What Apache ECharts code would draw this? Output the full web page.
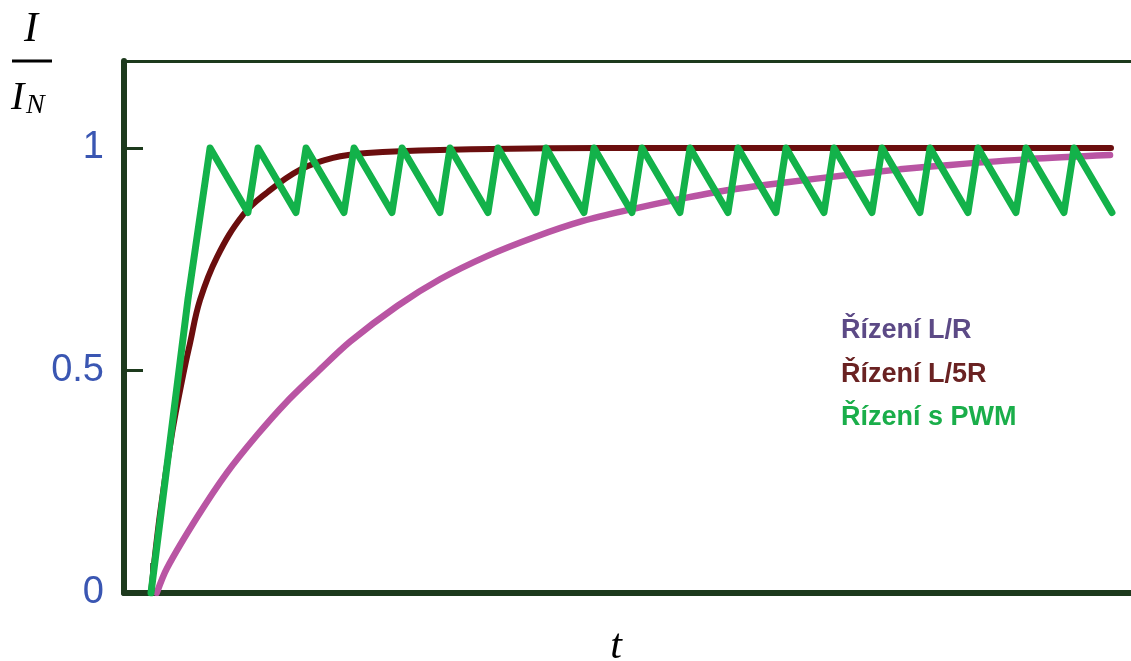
<!DOCTYPE html>
<html>
<head>
<meta charset="utf-8">
<script src="https://cdn.jsdelivr.net/npm/echarts@6/dist/echarts.min.js"></script>
<style>
html,body{margin:0;padding:0;background:#fff;overflow:hidden;}
#chart{width:1131px;height:661px;}
</style>
</head>
<body>
<div id="chart"></div>
<script>
// ---- data (t in PWM-period units, value = I / I_N) ----
const seriesNames = ['Řízení L/R', 'Řízení L/5R', 'Řízení s PWM'];

const tLR = [0.12, 0.33, 0.96, 1.58, 2.21, 2.83, 3.5, 4.15, 5.13, 6.02, 7.0, 8.0, 9.0, 10.0, 11.0, 12.0, 13.17, 14.56, 15.6, 16.65, 18.3, 19.98];
const vLR = [0, 0.055, 0.17, 0.27, 0.355, 0.43, 0.5, 0.565, 0.645, 0.705, 0.757, 0.8, 0.836, 0.862, 0.885, 0.905, 0.922, 0.94, 0.952, 0.962, 0.975, 0.984];

const tL5R = [0, 0.19, 0.44, 0.67, 0.81, 1.02, 1.375, 1.92, 2.42, 3.1, 3.79, 4.5, 6.23, 9.35, 20.0];
const vL5R = [0, 0.18, 0.36, 0.49, 0.56, 0.658, 0.755, 0.85, 0.9, 0.951, 0.978, 0.989, 0.996, 1.0, 1.0];

const tPWM = [0, 0.77, 1.23, 2.02, 2.23, 3.02, 3.23, 4.02, 4.23, 5.02, 5.23, 6.02, 6.23, 7.02, 7.23, 8.02, 8.23, 9.02, 9.23, 10.02, 10.23, 11.02, 11.23, 12.02, 12.23, 13.02, 13.23, 14.02, 14.23, 15.02, 15.23, 16.02, 16.23, 17.02, 17.23, 18.02, 18.23, 19.02, 19.23, 20.02];
const vPWM = [0, 0.66, 1, 0.855, 1, 0.855, 1, 0.855, 1, 0.855, 1, 0.855, 1, 0.855, 1, 0.855, 1, 0.855, 1, 0.855, 1, 0.855, 1, 0.855, 1, 0.855, 1, 0.855, 1, 0.855, 1, 0.855, 1, 0.855, 1, 0.855, 1, 0.855, 1, 0.855];

const yTickValues = [0, 0.5, 1];

function pairs(ts, vs) { return ts.map((t, i) => [t, vs[i]]); }

const axisColor = '#1d3a1d';
const chart = echarts.init(document.getElementById('chart'));
chart.setOption({
  backgroundColor: '#ffffff',
  animation: false,
  grid: { left: 124, right: 0, top: 61, bottom: 68, containLabel: false, outerBoundsMode: 'none' },
  xAxis: [{
    type: 'value', min: -0.5625, max: 20.4167,
    name: 't', nameLocation: 'middle', nameGap: 33,
    nameTextStyle: { fontFamily: 'Liberation Serif', fontStyle: 'italic', fontSize: 42, color: '#000', padding: [0, 23, 0, 0] },
    axisLine: { show: true, onZero: false, lineStyle: { color: axisColor, width: 6 } },
    axisTick: { show: true, inside: true, length: 30, customValues: [0], lineStyle: { color: axisColor, width: 2.5 } },
    axisLabel: { show: false },
    splitLine: { show: false }
  }, {
    type: 'value', position: 'top', min: -0.5625, max: 20.4167,
    axisLine: { show: true, onZero: false, lineStyle: { color: axisColor, width: 3 } },
    axisTick: { show: false }, axisLabel: { show: false }, splitLine: { show: false }
  }],
  yAxis: {
    type: 'value', min: 0, max: 1.1955, interval: 0.5,
    axisLine: { show: true, onZero: false, lineStyle: { color: axisColor, width: 6 } },
    axisTick: { show: true, inside: true, length: 19, customValues: [0.5, 1], lineStyle: { color: axisColor, width: 3 } },
    axisLabel: { customValues: yTickValues, margin: 20, padding: [9, 0, 0, 0], fontFamily: 'Liberation Sans', fontSize: 38, color: '#3a56b2' },
    splitLine: { show: false }
  },
  legend: {
    orient: 'vertical', left: 831, top: 311, icon: 'none', itemWidth: 0, itemHeight: 30, itemGap: 15,
    selectedMode: false,
    textStyle: { fontFamily: 'Liberation Sans', fontWeight: 'bold', fontSize: 27 },
    data: [
      { name: seriesNames[0], textStyle: { color: '#5c4a86' } },
      { name: seriesNames[1], textStyle: { color: '#6a2222' } },
      { name: seriesNames[2], textStyle: { color: '#1aae4a' } }
    ]
  },
  graphic: [
    { type: 'text', left: 24, top: 9, style: { text: 'I', fontFamily: 'Liberation Serif', fontStyle: 'italic', fontSize: 42, fill: '#000' } },
    { type: 'line', shape: { x1: 12, y1: 61, x2: 52, y2: 61 }, style: { stroke: '#000', lineWidth: 3 } },
    { type: 'text', left: 11, top: 78, style: { text: 'I', fontFamily: 'Liberation Serif', fontStyle: 'italic', fontSize: 40, fill: '#000' } },
    { type: 'text', left: 26, top: 92, style: { text: 'N', fontFamily: 'Liberation Serif', fontStyle: 'italic', fontSize: 28, fill: '#000' } }
  ],
  series: [
    { name: seriesNames[0], type: 'line', data: pairs(tLR, vLR), showSymbol: false, smooth: 0.3,
      lineStyle: { color: '#b955a3', width: 6.5, cap: 'round' }, itemStyle: { color: '#b955a3' } },
    { name: seriesNames[1], type: 'line', data: pairs(tL5R, vL5R), showSymbol: false, smooth: 0.4,
      lineStyle: { color: '#6b0e0e', width: 6, cap: 'round' }, itemStyle: { color: '#6b0e0e' } },
    { name: seriesNames[2], type: 'line', data: pairs(tPWM, vPWM), showSymbol: false,
      lineStyle: { color: '#13b24a', width: 7, cap: 'round', join: 'round' }, itemStyle: { color: '#13b24a' } }
  ]
});
</script>
</body>
</html>
